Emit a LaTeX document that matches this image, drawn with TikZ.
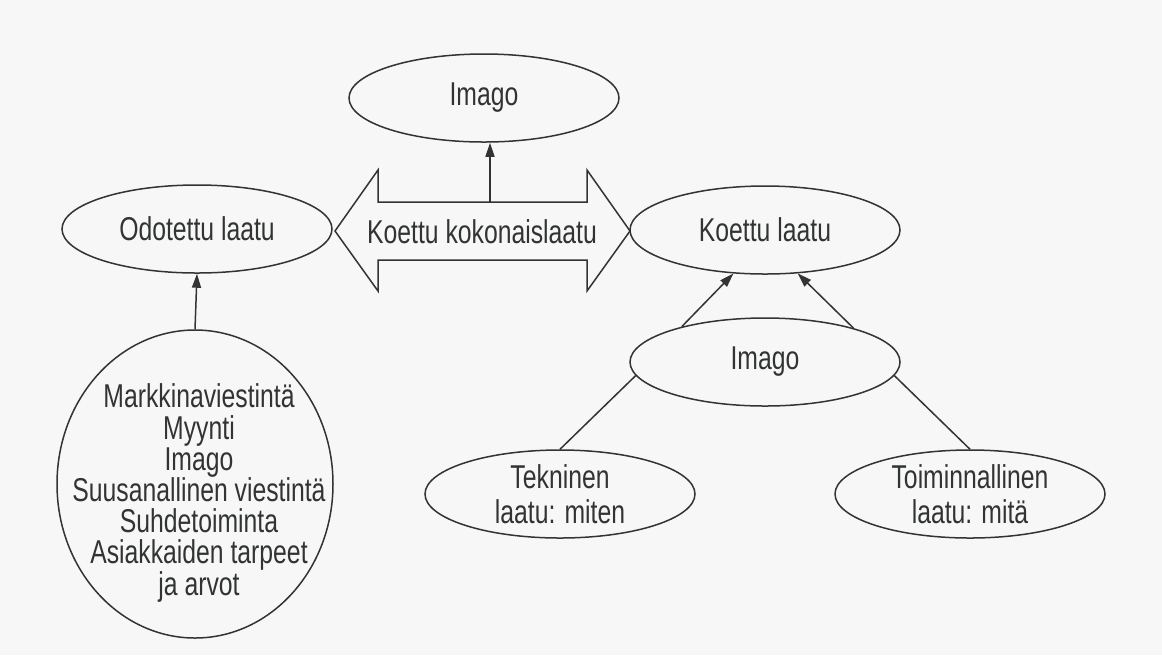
\documentclass[tikz,border=0pt]{standalone}
\usepackage{fontspec}
\setmainfont[FakeStretch=0.75]{Liberation Sans}
\usetikzlibrary{arrows.meta,shapes.geometric}
\definecolor{ink}{RGB}{50,52,52}
\definecolor{paper}{RGB}{247,247,247}
\begin{document}
\begin{tikzpicture}[x=0.5pt,y=-0.5pt,
  every node/.style={font=\fontsize{16.5}{17.5}\selectfont, text=ink},
  oval/.style={ellipse, draw=ink, line width=0.75pt, inner sep=0pt,
               minimum width=135pt, minimum height=44pt, align=center},
  conn/.style={draw=ink, line width=0.75pt},
  arr/.style={conn, -{Triangle[length=7pt,width=4.5pt]}}]
\fill[paper] (0,0) rectangle (1162,655);
\useasboundingbox (0,0) rectangle (1162,655);

% ellipses
\node[oval] (imgtop) at (484,98) {Imago};
\node[oval] (odot) at (197,229) {Odotettu laatu};
\node[oval] (koettu) at (765,230) {Koettu laatu};
\node[oval] (imgmid) at (765,362) {Imago};
\node[oval] (tekn) at (560,494) {Tekninen\\laatu: miten};
\node[oval] (toim) at (970,494) {Toiminnallinen\\laatu: mitä};
\node[ellipse, draw=ink, line width=0.75pt, inner sep=0pt,
      minimum width=138pt, minimum height=154pt] (big) at (195,484) {};
\node[align=center, font=\fontsize{16.5}{15.6}\selectfont] (bigtext) at (199,493)
  {Markkinaviestintä\\Myynti\\Imago\\Suusanallinen viestintä\\Suhdetoiminta\\Asiakkaiden tarpeet\\ja arvot};

% double arrow
\coordinate (dblL) at (335,231);
\coordinate (dblR) at (630,231);
\coordinate (dbltop) at (490,202);
\draw[conn, line join=miter] (dblL) -- (378,170) -- (378,202) -- (dbltop) -- (587,202)
  -- (587,170) -- (dblR) -- (587,291) -- (587,260) -- (378,260) -- (378,291) -- cycle;
\node (dbltext) at (482,232) {Koettu kokonaislaatu};

% connectors
\draw[arr] (dbltop) -- (dbltop |- imgtop.south);
\draw[arr] (big.north) -- (odot.south);
\draw[arr] (imgmid.157.6) -- (koettu.234);
\draw[arr] (imgmid.21.3) -- (koettu.307.7);
\draw[conn] (imgmid.186.5) -- (tekn.north);
\draw[conn] (imgmid.354) -- (toim.north);
\end{tikzpicture}
\end{document}
